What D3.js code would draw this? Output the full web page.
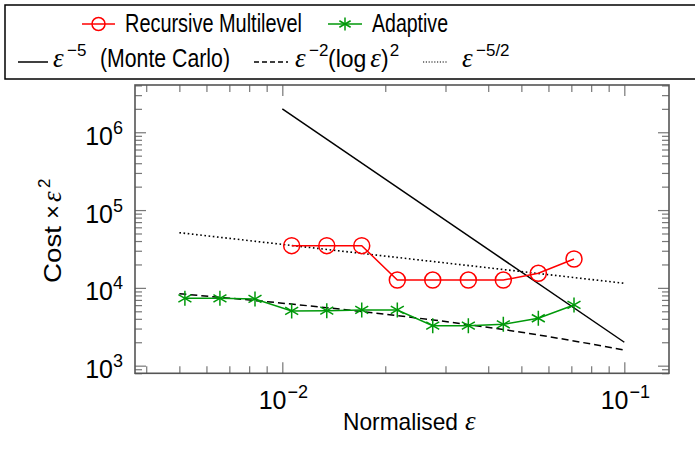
<!DOCTYPE html>
<html>
<head>
<meta charset="utf-8">
<script src="https://cdn.jsdelivr.net/npm/d3@7"></script>
<style>
  body { margin: 0; background: #fff; }
  text { font-family: "Liberation Sans", Arial, sans-serif; font-size: 24px; fill: #000; }
  .eps { font-family: "Liberation Serif", serif; font-style: italic; font-size: 27px; }
  .sup { font-size: 17px; }
</style>
</head>
<body>
<div id="chart"></div>
<script>
// values
const epsRecursive = [0.01065, 0.01349, 0.01707, 0.02169, 0.02753, 0.03499, 0.04428, 0.05605, 0.07127];
const costRecursive = [34900, 34900, 34900, 12600, 12600, 12600, 12600, 15400, 23500];

const epsAdaptive = [0.00519, 0.00657, 0.00832, 0.01065, 0.01349, 0.01707, 0.02169, 0.02753, 0.03499, 0.04428, 0.05605, 0.07127];
const costAdaptive = [7350, 7350, 7200, 5050, 5090, 5200, 5200, 3270, 3270, 3400, 4070, 6030];

// reference rates
const epsMonteCarlo = [0.01, 0.1];
const costMonteCarlo = [2.0e6, 2.0e3];
const epsLogSq = [0.005, 0.01, 0.02, 0.05, 0.1];
const costLogSq = [8400, 6360, 4590, 2690, 1590];
const epsFiveHalves = [0.005, 0.1];
const costFiveHalves = [51200, 11460];

// ticks
const xMajor = [0.01, 0.1];
const xMajorLabels = ["\u22122", "\u22121"];
const xMinor = [0.004, 0.005, 0.006, 0.007, 0.008, 0.009, 0.02, 0.03, 0.04, 0.05, 0.06, 0.07, 0.08, 0.09];
const yMajor = [1e3, 1e4, 1e5, 1e6];
const yMajorLabels = ["3", "4", "5", "6"];
const yMinor = [];
[800, 900].forEach(v => yMinor.push(v));
[1e3, 1e4, 1e5].forEach(d => { for (let k = 2; k <= 9; k++) yMinor.push(k * d); });
[2e6, 3e6, 4e6].forEach(v => yMinor.push(v));

const width = 695, height = 451;
const plot = { left: 135, right: 669, top: 85, bottom: 373.3 };

const svg = d3.select("#chart").append("svg")
  .attr("width", width)
  .attr("height", height);

const x = d3.scaleLog().domain([0.003709, 0.1351]).range([plot.left, plot.right]);
const y = d3.scaleLog().domain([798, 4.05e6]).range([plot.bottom, plot.top]);

svg.append("clipPath").attr("id", "clip")
  .append("rect")
  .attr("x", plot.left).attr("y", plot.top)
  .attr("width", plot.right - plot.left).attr("height", plot.bottom - plot.top);

// ticks, pointing inward on all four sides
function tickGroup(axis, tx, ty) {
  const g = svg.append("g").attr("transform", `translate(${tx},${ty})`).call(axis);
  g.select(".domain").remove();
  g.selectAll(".tick line").attr("stroke", "#777").attr("stroke-width", 1.2);
  g.selectAll(".tick text").remove();
  return g;
}
tickGroup(d3.axisBottom(x).tickValues(xMinor).tickSize(-7), 0, plot.bottom);
tickGroup(d3.axisBottom(x).tickValues(xMajor).tickSize(-11), 0, plot.bottom);
tickGroup(d3.axisTop(x).tickValues(xMinor).tickSize(-7), 0, plot.top);
tickGroup(d3.axisTop(x).tickValues(xMajor).tickSize(-11), 0, plot.top);
tickGroup(d3.axisLeft(y).tickValues(yMinor).tickSize(-7), plot.left, 0);
tickGroup(d3.axisLeft(y).tickValues(yMajor).tickSize(-11), plot.left, 0);
tickGroup(d3.axisRight(y).tickValues(yMinor).tickSize(-7), plot.right, 0);
tickGroup(d3.axisRight(y).tickValues(yMajor).tickSize(-11), plot.right, 0);

svg.append("rect")
  .attr("x", plot.left).attr("y", plot.top)
  .attr("width", plot.right - plot.left).attr("height", plot.bottom - plot.top)
  .attr("fill", "none").attr("stroke", "#555").attr("stroke-width", 1.6);

// tick labels
xMajor.forEach((v, i) => {
  const t = svg.append("text")
    .attr("x", x(v) + 1).attr("y", 409)
    .attr("text-anchor", "middle")
    .style("font-size", "25px");
  t.append("tspan").text("10");
  t.append("tspan").attr("dy", -11).attr("dx", 1).style("font-size", "18px").text(xMajorLabels[i]);
});
yMajor.forEach((v, i) => {
  const t = svg.append("text")
    .attr("x", 123).attr("y", y(v) + 12.5)
    .attr("text-anchor", "end")
    .style("font-size", "25px");
  t.append("tspan").text("10");
  t.append("tspan").attr("dy", -11).style("font-size", "18px").text(yMajorLabels[i]);
});

// small helper for a piece of text placed at a fixed spot
function piece(g, px, py, str, cls, len) {
  const t = g.append("text").attr("x", px).attr("y", py).text(str);
  if (cls) t.attr("class", cls);
  if (len) t.attr("textLength", len).attr("lengthAdjust", "spacingAndGlyphs");
  return t;
}

// axis labels
piece(svg, 343, 430, "Normalised", null, 115);
piece(svg, 465, 430, "\u03b5", "eps");

const yl = svg.append("g").attr("transform", "translate(61,283) rotate(-90)");
piece(yl, 0, 0, "Cost", null, 57);
piece(yl, 64, 0, "\u00d7");
piece(yl, 81, 0, "\u03b5", "eps");
piece(yl, 95, -11, "2", "sup");

// lines
const line = d3.line().x(d => x(d[0])).y(d => y(d[1]));
const plotArea = svg.append("g").attr("clip-path", "url(#clip)");

plotArea.append("path")
  .datum(d3.zip(epsMonteCarlo, costMonteCarlo))
  .attr("d", line).attr("fill", "none").attr("stroke", "#000").attr("stroke-width", 1.5);
plotArea.append("path")
  .datum(d3.zip(epsLogSq, costLogSq))
  .attr("d", line.curve(d3.curveMonotoneX)).attr("fill", "none").attr("stroke", "#000")
  .attr("stroke-width", 1.5).attr("stroke-dasharray", "7,4");
line.curve(d3.curveLinear);
plotArea.append("path")
  .datum(d3.zip(epsFiveHalves, costFiveHalves))
  .attr("d", line).attr("fill", "none").attr("stroke", "#000")
  .attr("stroke-width", 1.6).attr("stroke-dasharray", "1.6,2.6");

const red = "#ff0000", green = "#00990a";

plotArea.append("path")
  .datum(d3.zip(epsRecursive, costRecursive))
  .attr("d", line).attr("fill", "none").attr("stroke", red).attr("stroke-width", 1.5);
plotArea.selectAll(".circ")
  .data(d3.zip(epsRecursive, costRecursive))
  .join("circle")
  .attr("class", "circ")
  .attr("cx", d => x(d[0])).attr("cy", d => y(d[1]))
  .attr("r", 8).attr("fill", "none").attr("stroke", red).attr("stroke-width", 1.5);

plotArea.append("path")
  .datum(d3.zip(epsAdaptive, costAdaptive))
  .attr("d", line).attr("fill", "none").attr("stroke", green).attr("stroke-width", 1.5);

function asterisk(g, cx, cy, r) {
  [90, 30, -30].forEach(a => {
    const rad = a * Math.PI / 180;
    g.append("line")
      .attr("x1", cx - r * Math.cos(rad)).attr("y1", cy - r * Math.sin(rad))
      .attr("x2", cx + r * Math.cos(rad)).attr("y2", cy + r * Math.sin(rad))
      .attr("stroke", green).attr("stroke-width", 1.5);
  });
}
d3.zip(epsAdaptive, costAdaptive).forEach(d => asterisk(plotArea, x(d[0]), y(d[1]), 7.5));

// legend
const legend = svg.append("g");
legend.append("rect")
  .attr("x", 5).attr("y", 5).attr("width", 700).attr("height", 74)
  .attr("fill", "#fff").attr("stroke", "#000").attr("stroke-width", 1.5);

legend.append("line").attr("x1", 82).attr("x2", 115).attr("y1", 24).attr("y2", 24)
  .attr("stroke", red).attr("stroke-width", 1.5);
legend.append("circle").attr("cx", 98.5).attr("cy", 24).attr("r", 6.5)
  .attr("fill", "none").attr("stroke", red).attr("stroke-width", 1.5);
piece(legend, 125, 32, "Recursive Multilevel", null, 177).style("font-size", "25px");

legend.append("line").attr("x1", 328).attr("x2", 362).attr("y1", 24).attr("y2", 24)
  .attr("stroke", green).attr("stroke-width", 1.5);
asterisk(legend, 345, 24, 6.5);
piece(legend, 372, 32, "Adaptive", null, 76).style("font-size", "25px");

// second row
legend.append("line").attr("x1", 18).attr("x2", 48).attr("y1", 62).attr("y2", 62)
  .attr("stroke", "#000").attr("stroke-width", 1.5);
piece(legend, 53, 67, "\u03b5", "eps");
piece(legend, 67, 56, "\u22125", "sup");
piece(legend, 100, 67, "(Monte Carlo)", null, 130).style("font-size", "25px");

legend.append("line").attr("x1", 254).attr("x2", 288).attr("y1", 62).attr("y2", 62)
  .attr("stroke", "#000").attr("stroke-width", 1.5).attr("stroke-dasharray", "5,3");
piece(legend, 295, 67, "\u03b5", "eps");
piece(legend, 309, 56, "\u22122", "sup");
const logTerm = legend.append("text").attr("x", 328).attr("y", 67).style("font-size", "23px");
logTerm.append("tspan").text("(log");
logTerm.append("tspan").attr("class", "eps").attr("dx", 4).text("\u03b5");
logTerm.append("tspan").text(")");
logTerm.append("tspan").attr("class", "sup").attr("dx", 1).attr("dy", -11).text("2");

legend.append("line").attr("x1", 423).attr("x2", 448).attr("y1", 62).attr("y2", 62)
  .attr("stroke", "#000").attr("stroke-width", 1.2).attr("stroke-dasharray", "1.2,1.6");
piece(legend, 462, 67, "\u03b5", "eps");
piece(legend, 476, 56, "\u22125/2", "sup");
</script>
</body>
</html>
